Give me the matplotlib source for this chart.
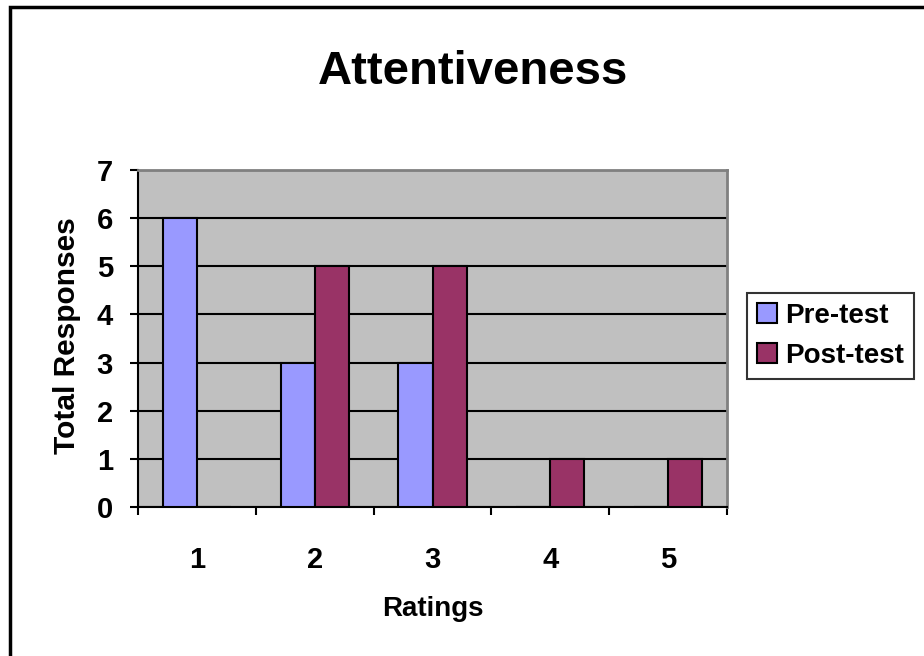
import matplotlib.pyplot as plt
import numpy as np
from matplotlib.patches import Rectangle

# Chart data
ratings = [1, 2, 3, 4, 5]
pre_test = [6, 3, 3, 0, 0]
post_test = [0, 5, 5, 1, 1]

plt.rcParams['font.family'] = ['Liberation Sans', 'DejaVu Sans']
plt.rcParams['font.weight'] = 'bold'

fig = plt.figure(figsize=(9.24, 6.56), dpi=100)
ax = fig.add_axes([138 / 924, 1 - 507 / 656, (727 - 138) / 924, (507 - 170) / 656])
ax.set_facecolor('#C0C0C0')

x = np.array(ratings)
w = 0.29
ax.bar(x - w / 2, pre_test, w, color='#9999FF', edgecolor='black', linewidth=1.5,
       label='Pre-test', zorder=3)
ax.bar(x + w / 2, post_test, w, color='#993366', edgecolor='black', linewidth=1.5,
       label='Post-test', zorder=3)

ax.set_xlim(0.5, 5.5)
ax.set_ylim(0, 7)
ax.set_yticks(range(0, 8))
ax.yaxis.grid(True, color='black', linewidth=1.5, zorder=1)
ax.set_axisbelow(True)

# category labels centred, tick marks on the boundaries
ax.set_xticks(ratings)
ax.set_xticks(np.arange(0.5, 6, 1), minor=True)
ax.tick_params(axis='x', which='major', length=0, pad=28, labelsize=21)
ax.tick_params(axis='x', which='minor', length=6, width=1.5, direction='out')
ax.tick_params(axis='y', length=6, width=1.5, direction='out', pad=12, labelsize=21)

for s in ['left', 'bottom']:
    ax.spines[s].set_color('black')
    ax.spines[s].set_linewidth(1.5)
for s in ['top', 'right']:
    ax.spines[s].set_color('#808080')
    ax.spines[s].set_linewidth(2)

ax.set_xlabel('Ratings', fontsize=20, fontweight='bold', labelpad=16)
ax.set_ylabel('Total Responses', fontsize=21.5, fontweight='bold')
ax.yaxis.set_label_coords(-0.096, 0.51)
fig.suptitle('Attentiveness', fontsize=34, fontweight='bold',
             x=473 / 924, y=1 - 72 / 656, va='center')

leg = fig.legend(loc='center left', bbox_to_anchor=(747 / 924, 1 - 336 / 656),
                 fontsize=20, frameon=True, fancybox=False, edgecolor='black',
                 handlelength=0.72, handleheight=0.72, handletextpad=0.3,
                 borderpad=0.35, labelspacing=0.5, borderaxespad=0)
leg.get_frame().set_linewidth(1.5)

# outer chart border
fig.patches.append(Rectangle((10 / 924, -0.1), 1.2, 1 - 6.5 / 656 + 0.1,
                             transform=fig.transFigure, fill=False,
                             edgecolor='black', linewidth=2.5))

fig.savefig('out.png', dpi=100)
